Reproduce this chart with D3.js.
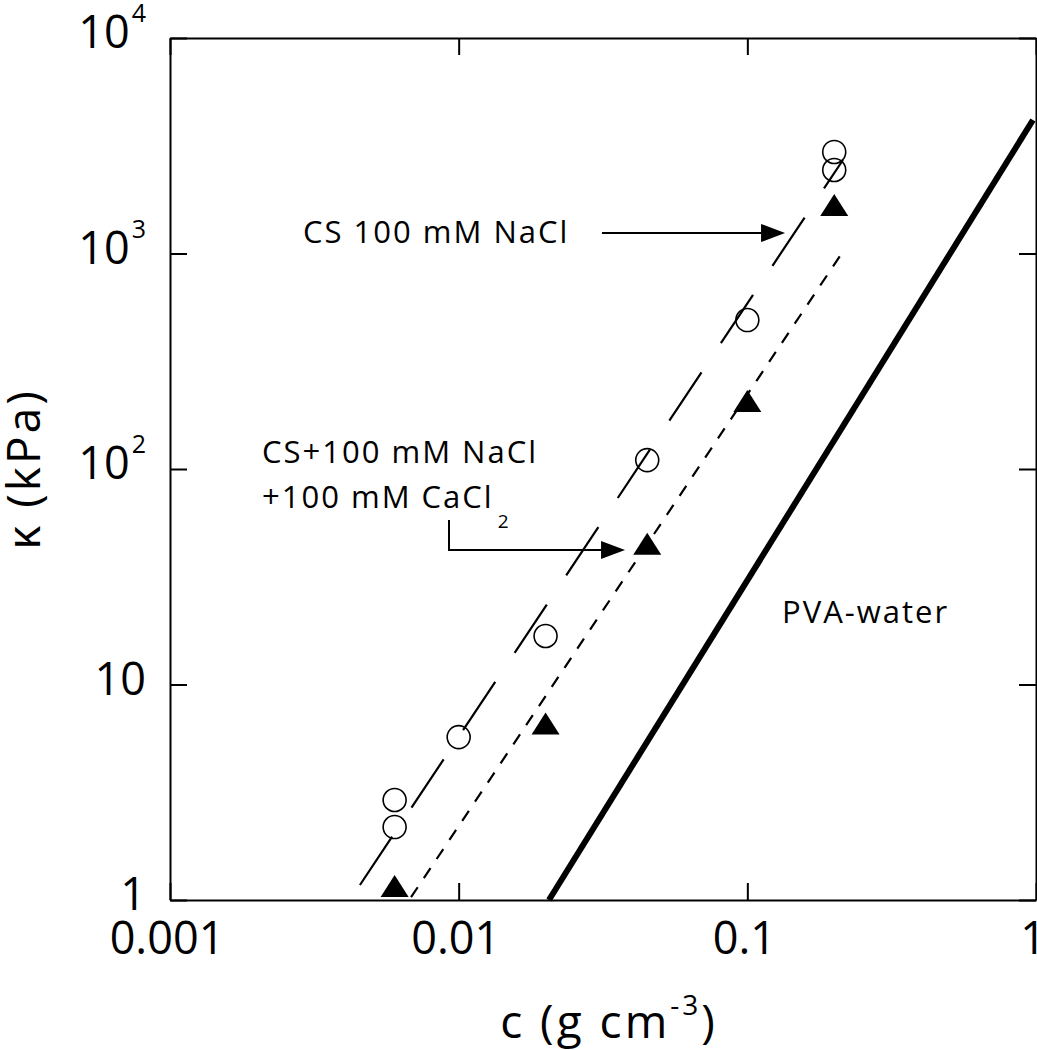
<!DOCTYPE html>
<html>
<head>
<meta charset="utf-8">
<script src="https://cdn.jsdelivr.net/npm/d3@7"></script>
<style>
  html, body { margin: 0; padding: 0; background: #fff; }
  svg { display: block; }
  text { font-family: "Open Sans", "Noto Sans", sans-serif; fill: #000; }
</style>
</head>
<body>
<svg id="chart" width="1037" height="1050"></svg>
<script>
// ---- data ----
const xTicks = [0.001, 0.01, 0.1, 1];
const xTickLabels = ["0.001", "0.01", "0.1", "1"];
const yTicks = [1, 10, 100, 1000, 10000];
const yTickBase = ["1", "10", "10", "10", "10"];
const yTickExp = ["", "", "2", "3", "4"];

// CS 100 mM NaCl (open circles)
const naclC = [0.006, 0.006, 0.01, 0.02, 0.045, 0.1, 0.2, 0.2];
const naclK = [2.18, 2.91, 5.7, 16.8, 110, 491, 2440, 2960];
// CS + 100 mM NaCl + 100 mM CaCl2 (filled triangles)
const caclC = [0.006, 0.02, 0.045, 0.1, 0.2];
const caclK = [1.16, 6.6, 45, 207, 1680];

// fitted lines (end points)
const naclFitC = [0.00455, 0.2144];
const naclFitK = [1.174, 2716];
const caclFitC = [0.00684, 0.2162];
const caclFitK = [1.03, 1038];
// PVA-water
const pvaC = [0.02055, 0.976];
const pvaK = [1, 4165];

// ---- layout ----
const svg = d3.select("#chart");
const L = 170, R = 1036, T = 38, B = 900;
const x = d3.scaleLog().domain([0.001, 1]).range([L, R]);
const y = d3.scaleLog().domain([1, 10000]).range([B, T]);

// axes (ticks inward on all four sides)
function styleAxis(g) {
  g.selectAll("path.domain").attr("stroke", "#000").attr("stroke-width", 2);
  g.selectAll(".tick line").attr("stroke", "#000").attr("stroke-width", 2);
  g.selectAll(".tick text").remove();
}
svg.append("g").attr("transform", `translate(0,${B})`)
  .call(d3.axisBottom(x).tickValues(xTicks).tickSizeInner(-17).tickSizeOuter(0)).call(styleAxis);
svg.append("g").attr("transform", `translate(0,${T})`)
  .call(d3.axisTop(x).tickValues(xTicks).tickSizeInner(-17).tickSizeOuter(0)).call(styleAxis);
svg.append("g").attr("transform", `translate(${L},0)`)
  .call(d3.axisLeft(y).tickValues(yTicks).tickSizeInner(-17).tickSizeOuter(0)).call(styleAxis);
svg.append("g").attr("transform", `translate(${R},0)`)
  .call(d3.axisRight(y).tickValues(yTicks).tickSizeInner(-17).tickSizeOuter(0)).call(styleAxis);

// tick labels
svg.append("g").selectAll("text").data(xTicks).join("text")
  .attr("x", d => x(d) - 3).attr("y", B + 54)
  .attr("text-anchor", "middle").attr("font-size", 45)
  .text((d, i) => xTickLabels[i]);

const yl = svg.append("g").selectAll("text").data(yTicks).join("text")
  .attr("x", 146).attr("y", d => y(d) + 10)
  .attr("text-anchor", "end").attr("font-size", 45);
yl.append("tspan").text((d, i) => yTickBase[i]);
yl.append("tspan").attr("dy", -26).attr("dx", 2).attr("font-size", 25)
  .text((d, i) => yTickExp[i]);

// axis titles
const xt = svg.append("text").attr("x", 609).attr("y", 1038)
  .attr("text-anchor", "middle").attr("font-size", 46).attr("letter-spacing", 3);
xt.append("tspan").text("c (g cm");
xt.append("tspan").attr("dy", -23).attr("font-size", 28).text("-3");
xt.append("tspan").attr("dy", 23).text(")");

svg.append("text").attr("transform", "translate(40,469) rotate(-90)")
  .attr("text-anchor", "middle").attr("font-size", 46).attr("letter-spacing", 3)
  .text("κ (kPa)");

// lines
const line = d3.line().x(d => x(d[0])).y(d => y(d[1]));
svg.append("path").datum(naclFitC.map((c, i) => [c, naclFitK[i]]))
  .attr("d", line).attr("fill", "none").attr("stroke", "#000")
  .attr("stroke-width", 2.2).attr("stroke-dasharray", "58,35");
svg.append("path").datum(caclFitC.map((c, i) => [c, caclFitK[i]]))
  .attr("d", line).attr("fill", "none").attr("stroke", "#000")
  .attr("stroke-width", 2.2).attr("stroke-dasharray", "12,11");
svg.append("path").datum(pvaC.map((c, i) => [c, pvaK[i]]))
  .attr("d", line).attr("fill", "none").attr("stroke", "#000")
  .attr("stroke-width", 6);

// markers
svg.append("g").selectAll("circle").data(naclC).join("circle")
  .attr("cx", d => x(d)).attr("cy", (d, i) => y(naclK[i]))
  .attr("r", 11.5).attr("fill", "none").attr("stroke", "#000").attr("stroke-width", 1.6);
svg.append("g").selectAll("path").data(caclC).join("path")
  .attr("transform", (d, i) => `translate(${x(d)},${y(caclK[i])})`)
  .attr("d", "M0,-11L14,11L-14,11Z").attr("fill", "#000");

// annotations
function arrowHead(tx, ty) {
  svg.append("path").attr("d", `M${tx},${ty}L${tx - 24},${ty - 9}L${tx - 24},${ty + 9}Z`).attr("fill", "#000");
}
const annFont = 31, annSpacing = 2;
// annotation 1
svg.append("text").attr("x", x(0.002888)).attr("y", y(1119))
  .attr("font-size", annFont).attr("letter-spacing", annSpacing).text("CS 100 mM NaCl");
svg.append("line").attr("x1", x(0.03136)).attr("x2", x(0.1351) - 20)
  .attr("y1", y(1245)).attr("y2", y(1245)).attr("stroke", "#000").attr("stroke-width", 2);
arrowHead(x(0.1351), y(1245));

// annotation 2
const t2 = svg.append("text").attr("x", x(0.002083)).attr("y", y(106.6))
  .attr("font-size", annFont).attr("letter-spacing", annSpacing);
t2.append("tspan").text("CS+100 mM NaCl");
t2.append("tspan").attr("x", x(0.002083)).attr("dy", 45).text("+100 mM CaCl");
t2.append("tspan").attr("dx", 4).attr("dy", 20).attr("font-size", 19).text("2");
svg.append("path")
  .attr("d", `M${x(0.009259)},${y(58)}L${x(0.009259)},${y(42.1)}L${x(0.0377) - 20},${y(42.1)}`)
  .attr("fill", "none").attr("stroke", "#000").attr("stroke-width", 2);
arrowHead(x(0.0377), y(42.1));

// PVA-water label
svg.append("text").attr("x", x(0.1319)).attr("y", y(19.3))
  .attr("font-size", annFont).attr("letter-spacing", annSpacing).text("PVA-water");
</script>
</body>
</html>
